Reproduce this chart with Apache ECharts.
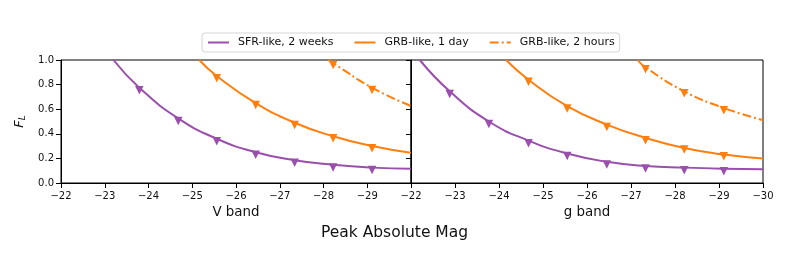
<!DOCTYPE html>
<html><head><meta charset="utf-8">
<script src="https://cdn.jsdelivr.net/npm/echarts@6/dist/echarts.min.js"></script>
<style>html,body{margin:0;padding:0;background:#fff}#c{width:789px;height:268px}</style>
</head><body><div id="c"></div>
<script>
// ---- data ----
const xTicks = [-22, -23, -24, -25, -26, -27, -28, -29, -30];
const yTicks = [0.0, 0.2, 0.4, 0.6, 0.8, 1.0];
const seriesNames = ['SFR-like, 2 weeks', 'GRB-like, 1 day', 'GRB-like, 2 hours'];

// V band (left panel)
const vMarkerMag = [-23.79, -24.68, -25.56, -26.45, -27.34, -28.22, -29.11];
const vSfrMarkers = [0.755, 0.505, 0.34, 0.23, 0.165, 0.127, 0.105];
const vGrb1dMarkers = [null, null, 0.851, 0.634, 0.472, 0.364, 0.283];
const vGrb2hMarkers = [null, null, null, null, null, 0.959, 0.756];

const vSfrCurveMag = [-23.2, -23.79, -24.68, -25.56, -26.45, -27.34, -28.22, -29.11, -30];
const vSfrCurve = [1.0, 0.775, 0.525, 0.36, 0.25, 0.185, 0.148, 0.125, 0.115];
const vGrb1dCurveMag = [-25.16, -25.56, -26.45, -27.34, -28.22, -29.11, -30];
const vGrb1dCurve = [1.0, 0.87, 0.65, 0.49, 0.38, 0.3, 0.245];
const vGrb2hCurveMag = [-28.11, -28.22, -29.11, -30];
const vGrb2hCurve = [1.0, 0.975, 0.775, 0.626];

// g band (right panel)
const gMarkerMag = [-22.88, -23.77, -24.67, -25.55, -26.45, -27.33, -28.21, -29.11];
const gSfrMarkers = [0.723, 0.479, 0.323, 0.22, 0.15, 0.117, 0.103, 0.095];
const gGrb1dMarkers = [null, null, 0.823, 0.606, 0.456, 0.348, 0.272, 0.218];
const gGrb2hMarkers = [null, null, null, null, null, 0.924, 0.729, 0.592];

const gSfrCurveMag = [-22.2, -22.88, -23.77, -24.67, -25.55, -26.45, -27.33, -28.21, -29.11, -30];
const gSfrCurve = [1.0, 0.745, 0.5, 0.345, 0.24, 0.172, 0.139, 0.125, 0.116, 0.112];
const gGrb1dCurveMag = [-24.16, -24.67, -25.55, -26.45, -27.33, -28.21, -29.11, -30];
const gGrb1dCurve = [1.0, 0.84, 0.625, 0.475, 0.367, 0.285, 0.231, 0.199];
const gGrb2hCurveMag = [-27.15, -27.33, -28.21, -29.11, -30];
const gGrb2hCurve = [1.0, 0.94, 0.745, 0.61, 0.511];

// ---- styling ----
const PURPLE = '#9a4fac';
const ORANGE = '#ff7f0e';
const FONT = 'DejaVu Sans';
const dashDot = [9, 3, 2, 3];

function pairs(xs, ys) {
  const out = [];
  for (let i = 0; i < xs.length; i++) if (ys[i] !== null && ys[i] !== undefined) out.push([xs[i], ys[i]]);
  return out;
}
const minus = v => (v < 0 ? '\u2212' + Math.abs(v) : String(v));

function xAxisFor(gridIndex, name, hideLast) {
  return {
    gridIndex, type: 'value', inverse: true, min: -30, max: -22, interval: 1,
    name, nameLocation: 'middle', nameGap: 23,
    nameTextStyle: { fontFamily: FONT, fontSize: 13.4, color: '#111' },
    axisLine: { show: true, onZero: false, lineStyle: { color: '#000', width: 1 } },
    axisTick: { show: true, length: 5, lineStyle: { color: '#000', width: 1 } },
    axisLabel: {
      fontFamily: FONT, fontSize: 10, color: '#111', margin: 8,
      formatter: v => (hideLast && v === -30 ? '' : minus(v))
    },
    splitLine: { show: false }
  };
}
function yAxisFor(gridIndex, showLabels) {
  const ax = {
    gridIndex, type: 'value', min: 0, max: 1, interval: 0.2,
    axisLine: { show: true, lineStyle: { color: '#000', width: 1 } },
    axisTick: { show: true, length: 5, lineStyle: { color: '#000', width: 1 } },
    axisLabel: { show: showLabels, fontFamily: FONT, fontSize: 10, color: '#111', margin: 7,
      formatter: v => v.toFixed(1) },
    splitLine: { show: false }
  };
  if (showLabels) {
    ax.name = '{i|F}{s|L}';
    ax.nameLocation = 'middle';
    ax.nameGap = 34;
    ax.nameTextStyle = {
      rich: {
        i: { fontFamily: FONT, fontStyle: 'italic', fontSize: 13, color: '#111', lineHeight: 15 },
        s: { fontFamily: FONT, fontStyle: 'italic', fontSize: 9, color: '#111', lineHeight: 15, padding: [7, 0, 0, 0] }
      }
    };
  }
  return ax;
}
function curve(name, xi, xs, ys, color, type) {
  return {
    name, type: 'line', xAxisIndex: xi, yAxisIndex: xi, data: pairs(xs, ys),
    smooth: 0.5, symbol: 'none', clip: true,
    lineStyle: { color, width: 2, type: type || 'solid' }, itemStyle: { color }, z: 3
  };
}
function markers(xi, xs, ys, color) {
  return {
    type: 'scatter', xAxisIndex: xi, yAxisIndex: xi, data: pairs(xs, ys),
    symbol: 'triangle', symbolRotate: 180, symbolSize: 8.5,
    itemStyle: { color, opacity: 1 }, z: 4, silent: true
  };
}

const chart = echarts.init(document.getElementById('c'), null, { renderer: 'canvas' });
chart.setOption({
  animation: false,
  backgroundColor: '#fff',
  textStyle: { fontFamily: FONT },
  legend: {
    data: seriesNames.map(n => ({ name: n })),
    left: 202, top: 33,
    orient: 'horizontal',
    itemWidth: 21, itemHeight: 10, itemGap: 20,
    padding: [4, 5, 4, 5],
    itemStyle: { opacity: 0 },
    borderColor: '#d5d5d5', borderWidth: 1, borderRadius: 3,
    textStyle: { fontFamily: FONT, fontSize: 11, color: '#111', padding: [0, 0, 0, 4] }
  },
  grid: [
    { left: 61, width: 350, top: 60, height: 123, show: true, borderColor: '#000', borderWidth: 1, backgroundColor: 'transparent' },
    { left: 411, width: 352, top: 60, height: 123, show: true, borderColor: '#000', borderWidth: 1, backgroundColor: 'transparent' }
  ],
  xAxis: [xAxisFor(0, 'V band', true), xAxisFor(1, 'g band', false)],
  yAxis: [yAxisFor(0, true), yAxisFor(1, false)],
  graphic: [{
    type: 'text', x: 394.5, y: 233,
    style: { text: 'Peak Absolute Mag', fontFamily: FONT, fontSize: 15.5, fill: '#111', align: 'center', verticalAlign: 'middle' }
  }],
  series: [
    curve(seriesNames[0], 0, vSfrCurveMag, vSfrCurve, PURPLE),
    curve(seriesNames[1], 0, vGrb1dCurveMag, vGrb1dCurve, ORANGE),
    curve(seriesNames[2], 0, vGrb2hCurveMag, vGrb2hCurve, ORANGE, dashDot),
    curve(seriesNames[0], 1, gSfrCurveMag, gSfrCurve, PURPLE),
    curve(seriesNames[1], 1, gGrb1dCurveMag, gGrb1dCurve, ORANGE),
    curve(seriesNames[2], 1, gGrb2hCurveMag, gGrb2hCurve, ORANGE, dashDot),
    markers(0, vMarkerMag, vSfrMarkers, PURPLE),
    markers(0, vMarkerMag, vGrb1dMarkers, ORANGE),
    markers(0, vMarkerMag, vGrb2hMarkers, ORANGE),
    markers(1, gMarkerMag, gSfrMarkers, PURPLE),
    markers(1, gMarkerMag, gGrb1dMarkers, ORANGE),
    markers(1, gMarkerMag, gGrb2hMarkers, ORANGE)
  ]
});
</script>
</body></html>
